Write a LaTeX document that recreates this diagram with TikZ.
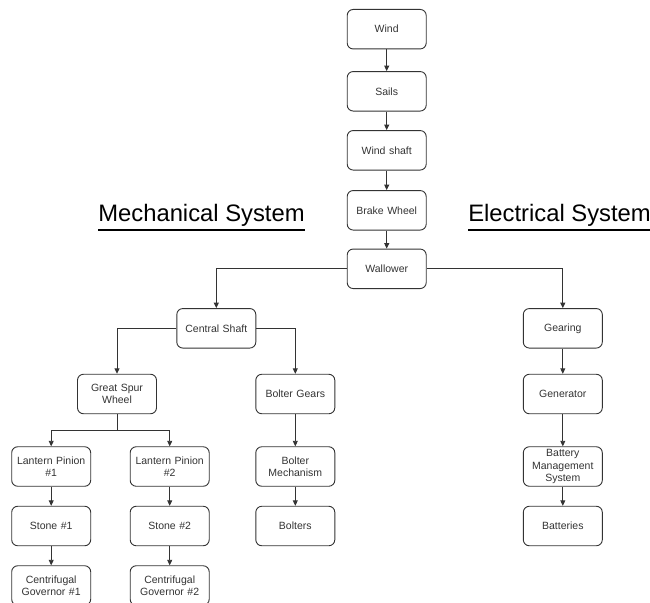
\documentclass[tikz,border=0pt]{standalone}
\usepackage{fontspec}
\setmainfont{Liberation Sans}
\usetikzlibrary{arrows.meta,calc}
\definecolor{ln}{HTML}{333333}
\tikzset{
  box/.style={draw=ln, line width=0.9pt, rounded corners=6pt, minimum width=79pt, minimum height=39.5pt,
    text width=77pt, align=center, inner sep=0pt, text=ln,
    font=\fontsize{10.5pt}{12.3pt}\selectfont},
  arr/.style={draw=ln, line width=0.9pt, -{Triangle[length=5.5pt,width=5pt]}},
  title/.style={font=\fontsize{23.8pt}{26pt}\selectfont, inner sep=0pt, anchor=base, text=black},
  uline/.style={draw=black, line width=1.4pt}
}
\begin{document}
\begin{tikzpicture}[x=1pt,y=-1pt]
\useasboundingbox (0,0) rectangle (650,602);
\clip (0,0) rectangle (650,602);
% main column
\node[box] (wind) at (386.7,29.2) {Wind};
\node[box] (sails) at (386.7,91.3) {Sails};
\node[box] (shaft) at (386.7,150.3) {Wind shaft};
\node[box] (brake) at (386.7,210.3) {Brake Wheel};
\node[box] (wall) at (386.7,268.8) {Wallower};
% mechanical
\node[box] (cs) at (216.3,328.3) {Central Shaft};
\node[box] (gsw) at (117,394) {Great Spur\\Wheel};
\node[box] (bg) at (295.3,394) {Bolter Gears};
\node[box] (lp1) at (51.2,466.5) {Lantern Pinion\\\#1};
\node[box] (lp2) at (169.7,466.5) {Lantern Pinion\\\#2};
\node[box] (bm) at (295.3,466.5) {Bolter\\Mechanism};
\node[box] (st1) at (51.2,526) {Stone \#1};
\node[box] (st2) at (169.7,526) {Stone \#2};
\node[box] (bol) at (295.3,526) {Bolters};
\node[box] (cg1) at (51.2,585.5) {Centrifugal\\Governor \#1};
\node[box] (cg2) at (169.7,585.5) {Centrifugal\\Governor \#2};
% electrical
\node[box] (gear) at (562.8,328.3) {Gearing};
\node[box] (gen) at (562.8,394) {Generator};
\node[box] (bms) at (562.8,466.5) {Battery\\Management\\System};
\node[box] (bat) at (562.8,526) {Batteries};
% titles
\node[title] (mech) at (201.5,221.7) {Mechanical System};
\node[title] (elec) at (559.5,221.7) {Electrical System};
\draw[uline] ($(mech.base west)+(0,8.3)$) -- ($(mech.base east)+(0,8.3)$);
\draw[uline] ($(elec.base west)+(0,8.3)$) -- ($(elec.base east)+(0,8.3)$);
% connectors
\draw[arr] (wind) -- (sails);
\draw[arr] (sails) -- (shaft);
\draw[arr] (shaft) -- (brake);
\draw[arr] (brake) -- (wall);
\draw[arr] (wall.west) -| (cs.north);
\draw[arr] (wall.east) -| (gear.north);
\draw[arr] (cs.west) -| (gsw.north);
\draw[arr] (cs.east) -| (bg.north);
\coordinate (split) at ($(gsw.south)+(0,16.7)$);
\draw[draw=ln, line width=0.9pt] (gsw.south) -- (split);
\draw[arr] (split) -| (lp1.north);
\draw[arr] (split) -| (lp2.north);
\draw[arr] (lp1) -- (st1);
\draw[arr] (lp2) -- (st2);
\draw[arr] (st1) -- (cg1);
\draw[arr] (st2) -- (cg2);
\draw[arr] (bg) -- (bm);
\draw[arr] (bm) -- (bol);
\draw[arr] (gear) -- (gen);
\draw[arr] (gen) -- (bms);
\draw[arr] (bms) -- (bat);
\end{tikzpicture}
\end{document}
